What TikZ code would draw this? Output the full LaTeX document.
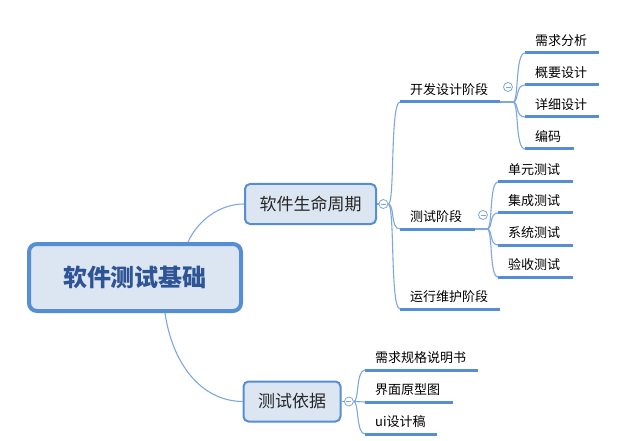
\documentclass[tikz,border=0pt]{standalone}
\usepackage{fontspec}
\setmainfont{Noto Sans CJK SC}
\usepackage{xcolor}
\usepackage{tikz}
\usetikzlibrary{positioning,backgrounds}
\definecolor{mapblue}{HTML}{558ED5}
\definecolor{mapfill}{HTML}{DCE6F2}
\definecolor{maptext}{HTML}{2F5496}
\definecolor{mapline}{HTML}{7EA6E0}

\begin{document}
\begin{tikzpicture}[
  x=1pt,y=-1pt,
  root/.style={draw=mapblue,line width=4pt,rounded corners=8pt,fill=mapfill,minimum height=67pt,inner xsep=34pt,font=\fontsize{24}{28}\selectfont\bfseries,text=maptext},
  topic/.style={draw=mapblue,line width=2pt,rounded corners=5pt,fill=mapfill,minimum height=40pt,inner xsep=14.5pt,font=\fontsize{17}{20}\selectfont,text=black!85},
  uline/.style={draw=mapblue,line width=3pt},
  leaf/.style={anchor=south west,inner xsep=10pt,inner ysep=6pt,font=\fontsize{13}{15}\selectfont,
    append after command={(\tikzlastnode.south west) edge[uline] ([xshift=#1]\tikzlastnode.south west)}},
  fold/.style={circle,draw=mapline,fill=white,line width=.8pt,minimum size=9pt,inner sep=0pt,
    path picture={\draw[mapline,line width=.8pt] ([xshift=-2.5pt]path picture bounding box.center) -- ([xshift=2.5pt]path picture bounding box.center);}},
  link/.style={draw=mapline,line width=1.1pt}
]
\useasboundingbox (0,0) rectangle (635,441);
\node[root] (root) at (135,277.5) {软件测试基础};
\node[topic] (l1) at (310.5,204) {软件生命周期};
\node[topic] (l2) at (292,401.5) {测试依据};
\node[fold,right=1.5pt of l1] (m1) {};
\node[fold,right=2.5pt of l2] (m2) {};
% lifecycle stages
\node[leaf=100pt] (a) at (400,102) {开发设计阶段};
\node[leaf=75pt] (b) at (400,229) {测试阶段};
\node[leaf=100pt] (c) at (400,309) {运行维护阶段};
\node[fold] (m3) at (508,87) {};
\node[fold] (m4) at (483,215) {};
\coordinate (aj) at (513,102);
\coordinate (bj) at (487,229);
\node[leaf=74pt] (a1) at (525,53) {需求分析};
\node[leaf=74pt,below=32pt of a1.south west,anchor=south west] (a2) {概要设计};
\node[leaf=74pt,below=32pt of a2.south west,anchor=south west] (a3) {详细设计};
\node[leaf=49pt,below=32pt of a3.south west,anchor=south west] (a4) {编码};
\node[leaf=75pt] (b1) at (498,182) {单元测试};
\node[leaf=75pt,below=31pt of b1.south west,anchor=south west] (b2) {集成测试};
\node[leaf=75pt,below=32pt of b2.south west,anchor=south west] (b3) {系统测试};
\node[leaf=75pt,below=32pt of b3.south west,anchor=south west] (b4) {验收测试};
% test basis
\node[leaf=113pt] (d1) at (365,370) {需求规格说明书};
\node[leaf=88pt,below=32pt of d1.south west,anchor=south west] (d2) {界面原型图};
\node[leaf=72pt,below=32pt of d2.south west,anchor=south west] (d3) {ui设计稿};
\begin{scope}[on background layer]
\draw[link] ([xshift=53pt]root.north) .. controls (198,220) and (220,204) .. (l1.west);
\draw[link] ([xshift=30pt]root.south) .. controls (172,362) and (200,401) .. (l2.west);
\draw[link] (l1.east) -- (m1.west);
\draw[link] (m1.east) .. controls (395,205) and (390,102) .. (a.south west);
\draw[link] (m1.east) .. controls (395,205) and (390,229) .. (b.south west);
\draw[link] (m1.east) .. controls (395,205) and (390,309) .. (c.south west);
\draw[link] (a.south east) -- (aj);
\draw[link] (aj) .. controls (519,102) and (515,53) .. (a1.south west);
\draw[link] (aj) .. controls (519,102) and (515,85) .. (a2.south west);
\draw[link] (aj) .. controls (519,102) and (515,117) .. (a3.south west);
\draw[link] (aj) .. controls (519,102) and (515,149) .. (a4.south west);
\draw[link] (b.south east) -- (bj);
\draw[link] (bj) .. controls (493,229) and (489,182) .. (b1.south west);
\draw[link] (bj) .. controls (493,229) and (489,213) .. (b2.south west);
\draw[link] (bj) .. controls (493,229) and (489,245) .. (b3.south west);
\draw[link] (bj) .. controls (493,229) and (489,277) .. (b4.south west);
\draw[link] (l2.east) -- (m2.west);
\draw[link] (m2.east) .. controls (359,402) and (356,370) .. (d1.south west);
\draw[link] (m2.east) -- (d2.south west);
\draw[link] (m2.east) .. controls (359,402) and (356,434) .. (d3.south west);
\end{scope}
\end{tikzpicture}
\end{document}
